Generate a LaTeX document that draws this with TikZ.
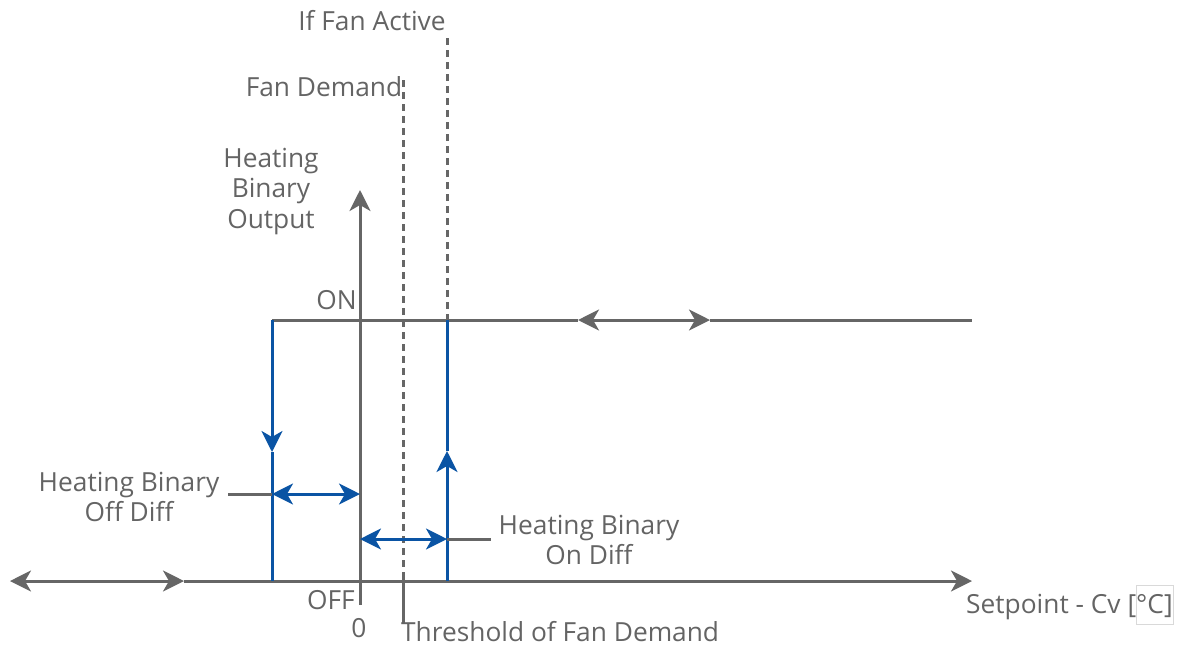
\documentclass[tikz,border=0pt]{standalone}
\usepackage{fontspec}
\setmainfont{Open Sans}
\usetikzlibrary{arrows.meta}
\definecolor{axgray}{RGB}{102,102,102}
\definecolor{txtgray}{RGB}{100,100,100}
\definecolor{hblue}{RGB}{10,84,164}
\tikzset{
  ax/.style={draw=axgray, line width=3pt},
  bl/.style={draw=hblue, line width=3pt},
  dsh/.style={draw=axgray, line width=3pt, dash pattern=on 7pt off 5pt},
  tip/.style={-{Stealth[length=21pt,width=21pt,inset=6pt]}},
  dtip/.style={{Stealth[length=21pt,width=21pt,inset=6pt]}-{Stealth[length=21pt,width=21pt,inset=6pt]}},
  lbl/.style={text=txtgray, font=\fontsize{26.3}{30.5}\selectfont, inner sep=0pt, align=center},
}
\begin{document}
\begin{tikzpicture}[x=1pt,y=-1pt]
\useasboundingbox (0,0) rectangle (1180,649);
% coordinates
\coordinate (axL) at (10,581);
\coordinate (axM) at (184,581);
\coordinate (axR) at (972,581);
\coordinate (yB) at (360,605);
\coordinate (yT) at (360,190);
\coordinate (onL) at (272,320);
\coordinate (onA) at (578,320);
\coordinate (onB) at (710,320);
\coordinate (onR) at (972,320);
\coordinate (bLb) at (272,581);
\coordinate (bLa) at (272,452);
\coordinate (bRb) at (447,581);
\coordinate (bRa) at (447,451);
\coordinate (bRt) at (447,320);
\coordinate (offL) at (228,494);
\coordinate (offA) at (272,494);
\coordinate (offB) at (360,494);
\coordinate (onDA) at (360,539);
\coordinate (onDB) at (447,539);
\coordinate (onDR) at (491,539);
\coordinate (fdT) at (403,80);
\coordinate (fdB) at (403,577);
\coordinate (thB) at (403,623);
\coordinate (faT) at (447,38);
% axes
\draw[ax,dtip] (axL) -- (axM);
\draw[ax,tip] (axM) -- (axR);
\draw[ax,tip] (yB) -- (yT);
% ON line
\draw[ax] (onL) -- (onA);
\draw[ax,dtip] (onA) -- (onB);
\draw[ax] (onB) -- (onR);
% dashed lines
\draw[dsh] (fdT) -- (fdB);
\draw[ax] (fdB) -- (thB);
\draw[dsh] (faT) -- (bRt);
% blue verticals
\draw[bl,tip] (onL) -- (bLa);
\draw[bl] (bLa) -- (bLb);
\draw[bl,tip] (bRb) -- (bRa);
\draw[bl] (bRa) -- (bRt);
% diff arrows
\draw[ax] (offL) -- (offA);
\draw[bl,dtip] (offA) -- (offB);
\draw[bl,dtip] (onDA) -- (onDB);
\draw[ax] (onDB) -- (onDR);
% labels
\node[lbl] (tFA) at (372,21) {If Fan Active};
\node[lbl] (tFD) at (324,87) {Fan Demand};
\node[lbl] (tHB) at (271,191) {Heating\\Binary\\Output};
\node[lbl, anchor=east] (tON) at (357,300) {ON};
\node[lbl, anchor=east] (tOFF) at (355,600) {OFF};
\node[lbl] (tZero) at (359,628) {0};
\node[lbl, anchor=west] (tTh) at (401,632) {Threshold of Fan Demand};
\node[lbl, anchor=west] (tSP) at (966,607) {Setpoint - Cv [°C]};
\draw[draw=black!15, line width=0.8pt] (1136,585) rectangle (1173,624);
\node[lbl] (tOffD) at (129,497) {Heating Binary\\Off Diff};
\node[lbl] (tOnD) at (589,540) {Heating Binary\\On Diff};
\end{tikzpicture}
\end{document}
